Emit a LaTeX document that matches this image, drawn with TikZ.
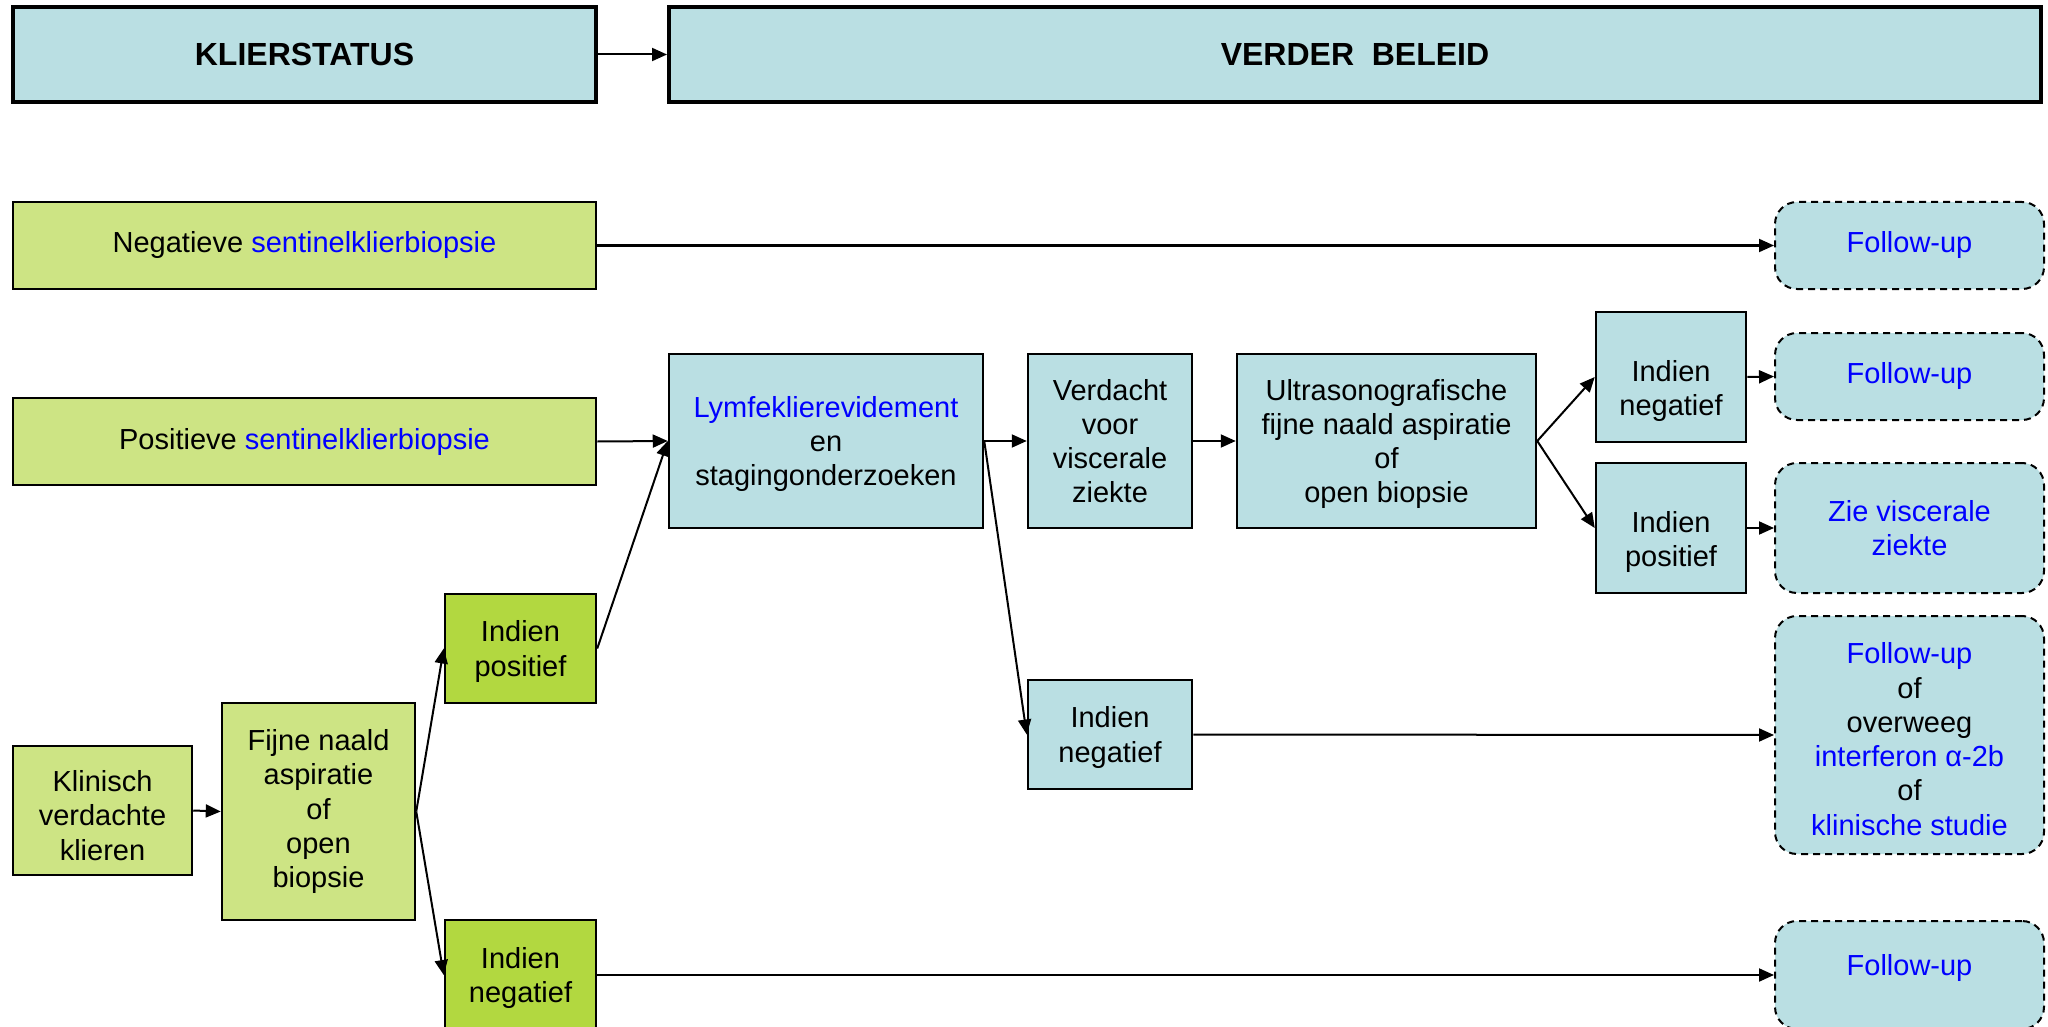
\documentclass[tikz,border=0pt]{standalone}
\usepackage{fontspec}
\setmainfont{Liberation Sans}
\usetikzlibrary{arrows.meta}
\definecolor{lblue}{RGB}{186,223,227}
\definecolor{lgreen}{RGB}{205,228,132}
\definecolor{dgreen}{RGB}{178,216,64}
\definecolor{tblue}{RGB}{0,0,255}
\newcommand{\bl}[1]{\textcolor{tblue}{#1}}
% tall invisible strut on the first line: pushes the text block down by half its excess
\newcommand{\pushdown}[1]{\rule{0pt}{\dimexpr 21.2pt+2\dimexpr #1pt\relax\relax}}
\begin{document}
\begin{tikzpicture}[x=1pt,y=-1pt,
  box/.style={draw=black, line width=2.5pt, inner sep=0pt, align=center,
    font=\fontsize{29}{34.3}\selectfont},
  ml/.style={text depth=0pt},
  hdr/.style={box, fill=lblue, line width=4pt, font=\fontsize{32}{38}\selectfont\bfseries},
  bluebox/.style={box, fill=lblue},
  greenbox/.style={box, fill=lgreen},
  dgreenbox/.style={box, fill=dgreen},
  endbox/.style={box, fill=lblue, dashed, line width=2pt, dash pattern=on 7pt off 5pt, rounded corners=22pt},
  sz/.style 2 args={minimum width=#1pt, minimum height=#2pt},
  conn/.style={draw=black, line width=2pt, -{Triangle[length=15pt,width=13pt]}}
]
\useasboundingbox (0,0) rectangle (2048,1027);

% header
\node[hdr, sz={583}{95}] (kl) at (304.5,54.5) {KLIERSTATUS};
\node[hdr, sz={1372}{95}] (vb) at (1355,54.5) {VERDER\ \ BELEID};

% left column
\node[greenbox, sz={583}{87}] (neg) at (304.5,245.5) {Negatieve \bl{sentinelklierbiopsie}};
\node[greenbox, sz={583}{87}] (pos) at (304.5,441.5) {Positieve \bl{sentinelklierbiopsie}};
\node[greenbox, sz={179}{129}] (klin) at (102.5,810.5) {\pushdown{5}Klinisch\\verdachte\\klieren};
\node[greenbox, sz={193}{217}] (fijne) at (318.5,811.5) {Fijne naald\\aspiratie\\of\\open\\biopsie};
\node[dgreenbox, ml, sz={151}{109}] (iposG) at (520.5,648.5) {Indien\\positief};
\node[dgreenbox, ml, sz={151}{110}] (inegG) at (520.5,975) {Indien\\negatief};

% middle
\node[bluebox, ml, sz={314}{174}] (lymf) at (826,441) {\bl{Lymfeklierevidement}\\en\\stagingonderzoeken};
\node[bluebox, ml, sz={164}{174}] (verd) at (1110,441) {Verdacht\\voor\\viscerale\\ziekte};
\node[bluebox, ml, sz={299}{174}] (ultra) at (1386.5,441) {Ultrasonografische\\fijne naald aspiratie\\of\\open biopsie};
\node[bluebox, ml, sz={150}{130}] (inegT) at (1671,377) {\pushdown{11}Indien\\negatief};
\node[bluebox, ml, sz={150}{130}] (iposR) at (1671,528) {\pushdown{11}Indien\\positief};
\node[bluebox, ml, sz={164}{109}] (inegM) at (1110,734.5) {Indien\\negatief};

% right column
\node[endbox, sz={269}{87}] (fu1) at (1909.5,245.5) {\bl{Follow-up}};
\node[endbox, sz={269}{87}] (fu2) at (1909.5,376.5) {\bl{Follow-up}};
\node[endbox, ml, sz={269}{130}] (zie) at (1909.5,528) {\bl{Zie viscerale}\\\bl{ziekte}};
\node[endbox, sz={269}{238}] (fuof) at (1909.5,735) {\pushdown{4}\bl{Follow-up}\\of\\overweeg\\\bl{interferon α-2b}\\of\\\bl{klinische studie}};
\node[endbox, sz={269}{108}] (fu4) at (1909.5,975) {};
\node[font=\fontsize{29}{34.3}\selectfont, text=tblue, inner sep=0pt] (fu4t) at (1909.5,968) {Follow-up};

% connectors
\draw[conn] (kl.east) -- (vb.west);
\draw[conn] (neg.east) -- (fu1.west);
\draw[conn] (pos.east) -- (lymf.west);
\draw[conn] (klin.east) -- (fijne.west);
\draw[conn] (fijne.east) -- (iposG.west);
\draw[conn] (fijne.east) -- (inegG.west);
\draw[conn] (iposG.east) -- (lymf.west);
\draw[conn] (inegG.east) -- (fu4.west);
\draw[conn] (lymf.east) -- (verd.west);
\draw[conn] (lymf.east) -- (inegM.west);
\draw[conn] (verd.east) -- (ultra.west);
\draw[conn] (ultra.east) -- (inegT.west);
\draw[conn] (ultra.east) -- (iposR.west);
\draw[conn] (inegT.east) -- (fu2.west);
\draw[conn] (iposR.east) -- (zie.west);
\draw[conn] (inegM.east) -- (fuof.west);
\end{tikzpicture}
\end{document}
